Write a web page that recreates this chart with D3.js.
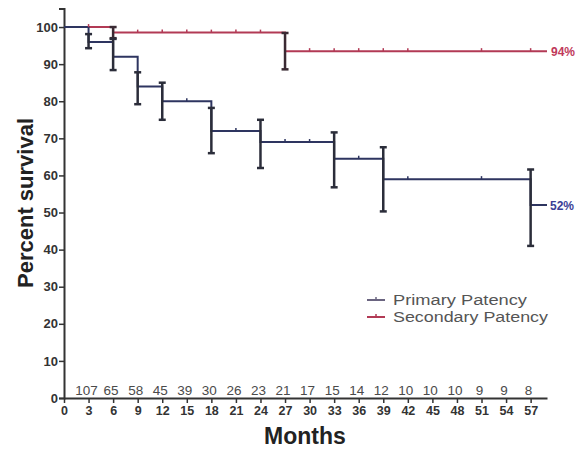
<!DOCTYPE html>
<html>
<head>
<meta charset="utf-8">
<script src="https://cdn.jsdelivr.net/npm/d3@7"></script>
<style>
  body { margin: 0; background: #fff; }
  svg { display: block; font-family: "Liberation Sans", Arial, sans-serif; }
</style>
</head>
<body>
<div class="forSvg"></div>
<script>
// size of svg
const svg_w = 584;
const svg_h = 449;

// step curves (month where the step starts, survival %)
const primaryMonths = [0, 3, 6, 9, 12, 18, 24, 33, 39, 57];
const primaryValues = [100, 96, 92, 84, 80, 72, 69, 64.5, 59, 52];
const secondaryMonths = [0, 6, 27];
const secondaryValues = [100, 98.5, 93.5];
const curveEnd = 59;

// error bars: [month, low, high]
const primaryErrors = [[3, 94.3, 98.1], [6, 88.4, 96.8], [9, 79.2, 87.8], [12, 75, 85],
  [18, 66, 78.2], [24, 62, 75], [33, 56.8, 71.6], [39, 50.3, 67.6], [57, 41, 61.6]];
const secondaryErrors = [[6, 97, 100], [27, 88.6, 98.4]];

// censor marks
const primaryCensored = [15, 21, 27, 30, 36, 42, 51];
const secondaryCensored = [3, 9, 12, 15, 18, 21, 24, 30, 33, 36, 39, 42, 51, 57];

// numbers at risk and ticks
const atRiskMonths = [3, 6, 9, 12, 15, 18, 21, 24, 27, 30, 33, 36, 39, 42, 45, 48, 51, 54, 57];
const atRisk = [107, 65, 58, 45, 39, 30, 26, 23, 21, 17, 15, 14, 12, 10, 10, 10, 9, 9, 8];
const xTicks = d3.range(0, 58, 3);
const yTicks = d3.range(0, 101, 10);

const colPrimary = "#2e3560";
const colSecondary = "#b23a55";
const colBar = "#2b2d3a";

const svg = d3.select(".forSvg").append("svg")
  .attr("width", svg_w).attr("height", svg_h);

const xScale = d3.scaleLinear().domain([0, 59]).range([64, 547]);
const yScale = d3.scaleLinear().domain([0, 105]).range([398, 8.5]);

// y axis
const yAxis = d3.axisLeft(yScale).tickValues(yTicks).tickSize(5).tickPadding(1);
const gy = svg.append("g").attr("transform", "translate(64,0)").call(yAxis);
gy.select(".domain").attr("stroke", "#333").attr("stroke-width", 2);
gy.selectAll(".tick line").attr("stroke", "#333").attr("stroke-width", 1.5);
gy.selectAll(".tick text").attr("font-family", "'Liberation Sans', Arial, sans-serif")
  .attr("font-size", 13).attr("font-weight", "bold").attr("fill", "#333");

// x axis
const xAxis = d3.axisBottom(xScale).tickValues(xTicks).tickSize(5).tickPadding(3).tickSizeOuter(0);
const gx = svg.append("g").attr("transform", "translate(0,398)").call(xAxis);
gx.select(".domain").attr("stroke", "#333").attr("stroke-width", 2);
gx.selectAll(".tick line").attr("stroke", "#333").attr("stroke-width", 1.5);
gx.selectAll(".tick text").attr("font-family", "'Liberation Sans', Arial, sans-serif")
  .attr("font-size", 12.5).attr("font-weight", "bold").attr("fill", "#333");

// step path builder
function stepPoints(months, values) {
  const pts = months.map((m, i) => [m, values[i]]);
  pts.push([curveEnd, values[values.length - 1]]);
  return pts;
}
const line = d3.line().x(d => xScale(d[0])).y(d => yScale(d[1])).curve(d3.curveStepAfter);

// error bars
function drawErrors(data, col) {
  const g = svg.append("g").attr("stroke", col).attr("stroke-width", 2.5);
  g.selectAll("line.v").data(data).enter().append("line")
    .attr("x1", d => xScale(d[0])).attr("x2", d => xScale(d[0]))
    .attr("y1", d => yScale(d[1])).attr("y2", d => yScale(d[2]));
  g.selectAll("line.lo").data(data).enter().append("line")
    .attr("x1", d => xScale(d[0]) - 3.5).attr("x2", d => xScale(d[0]) + 3.5)
    .attr("y1", d => yScale(d[1])).attr("y2", d => yScale(d[1]));
  g.selectAll("line.hi").data(data).enter().append("line")
    .attr("x1", d => xScale(d[0]) - 3.5).attr("x2", d => xScale(d[0]) + 3.5)
    .attr("y1", d => yScale(d[2])).attr("y2", d => yScale(d[2]));
}

// censor ticks
function drawCensor(months, stepsM, stepsV, col) {
  const valueAt = m => {
    let v = stepsV[0];
    stepsM.forEach((s, i) => { if (m >= s) v = stepsV[i]; });
    return v;
  };
  svg.append("g").selectAll("line").data(months).enter().append("line")
    .attr("x1", d => xScale(d)).attr("x2", d => xScale(d))
    .attr("y1", d => yScale(valueAt(d)) - 3).attr("y2", d => yScale(valueAt(d)))
    .attr("stroke", col).attr("stroke-width", 1.5);
}

// secondary
svg.append("path").datum(stepPoints(secondaryMonths, secondaryValues))
  .attr("d", line).attr("fill", "none").attr("stroke", colSecondary).attr("stroke-width", 2);
// primary
svg.append("path").datum(stepPoints(primaryMonths, primaryValues))
  .attr("d", line).attr("fill", "none").attr("stroke", colPrimary).attr("stroke-width", 2);

drawErrors(secondaryErrors, "#3a2a33");
drawErrors(primaryErrors, colBar);
drawCensor(secondaryCensored, secondaryMonths, secondaryValues, colSecondary);
drawCensor(primaryCensored, primaryMonths, primaryValues, colPrimary);

// end labels
svg.append("text").attr("x", 551).attr("y", yScale(secondaryValues[2]) + 4.5)
  .attr("font-size", 12).attr("font-weight", "bold").attr("fill", "#c0395a").text("94%");
svg.append("text").attr("x", 550).attr("y", yScale(primaryValues[primaryValues.length - 1]) + 4.5)
  .attr("font-size", 12).attr("font-weight", "bold").attr("fill", "#3b3f96").text("52%");

// numbers at risk
svg.append("g").selectAll("text").data(atRisk).enter().append("text")
  .attr("x", (d, i) => xScale(atRiskMonths[i]) - 2)
  .attr("y", 395)
  .attr("text-anchor", "middle")
  .attr("font-size", 13.5).attr("fill", "#4a4a4a")
  .text(d => d);

// legend
const legend = [["Primary Patency", "#6a6480", 134], ["Secondary Patency", colSecondary, 155]];
legend.forEach((l, i) => {
  const y = 305 + i * 17;
  svg.append("line").attr("x1", 367).attr("x2", 385).attr("y1", y - 5).attr("y2", y - 5)
    .attr("stroke", l[1]).attr("stroke-width", 2);
  svg.append("line").attr("x1", 376).attr("x2", 376).attr("y1", y - 8).attr("y2", y - 5)
    .attr("stroke", l[1]).attr("stroke-width", 1.5);
  svg.append("text").attr("x", 393).attr("y", y).attr("font-size", 15.5).attr("fill", "#555")
    .attr("textLength", l[2]).attr("lengthAdjust", "spacingAndGlyphs")
    .text(l[0]);
});

// axis titles
svg.append("text").attr("x", 305).attr("y", 444).attr("text-anchor", "middle")
  .attr("font-size", 23).attr("font-weight", "bold").attr("fill", "#222").text("Months");
svg.append("text").attr("transform", "translate(33,203) rotate(-90)").attr("text-anchor", "middle")
  .attr("font-size", 22).attr("font-weight", "bold").attr("fill", "#222").text("Percent survival");
</script>
</body>
</html>
